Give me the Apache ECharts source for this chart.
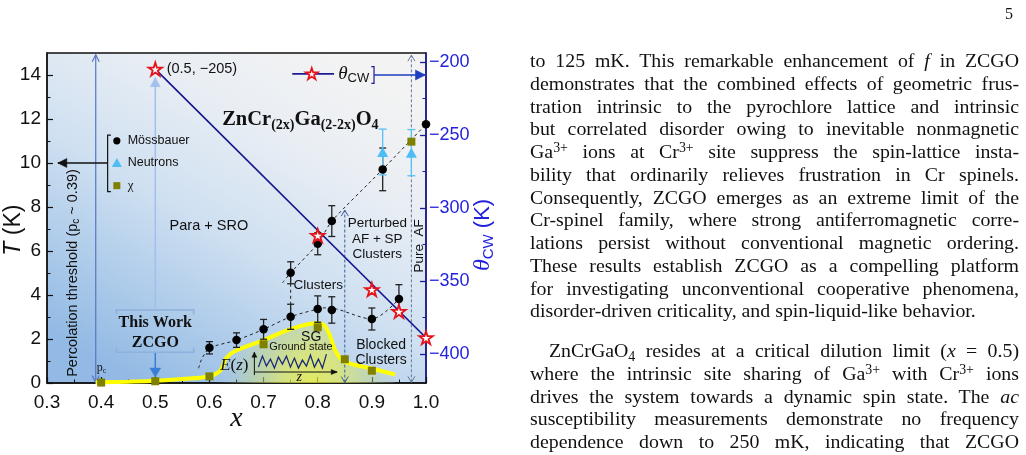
<!DOCTYPE html>
<html>
<head>
<meta charset="utf-8">
<script src="https://cdn.jsdelivr.net/npm/echarts@6.0.0/dist/echarts.min.js"></script>
<style>
html,body{margin:0;padding:0;background:#fff;}
body{width:1026px;height:455px;overflow:hidden;position:relative;}
#chart{position:absolute;left:0;top:0;width:520px;height:455px;}
#text{position:absolute;left:0;top:0;width:1026px;height:455px;font-family:'Liberation Serif','Times New Roman',serif;color:#111;}
.ln{position:absolute;white-space:nowrap;height:22px;line-height:22px;}
.ln sup{font-size:0.7em;vertical-align:0.45em;line-height:0;}
.ln sub{font-size:0.7em;vertical-align:-0.3em;line-height:0;}
#pg{position:absolute;left:1005px;top:5px;font-family:'Liberation Serif',serif;font-size:16px;color:#111;}
</style>
</head>
<body>
<div id="chart"></div>
<div id="text"></div>
<div id="pg">5</div>
<script>
// ---------------- data ----------------
const xTickVals = [0.3, 0.4, 0.5, 0.6, 0.7, 0.8, 0.9, 1.0];
const tTickVals = [0, 2, 4, 6, 8, 10, 12, 14];
const tMinorVals = [1, 3, 5, 7, 9, 11, 13];
const thetaTickVals = [-400, -350, -300, -250, -200];
const thetaMinorVals = [-375, -325, -275, -225];

// Mössbauer (black circles)
const mossX   = [0.6, 0.65, 0.7, 0.75, 0.75, 0.8, 0.8, 0.826, 0.826, 0.9, 0.92, 0.95, 1.0];
const mossT   = [1.6, 1.95, 2.44, 3.01, 5.01, 3.36, 6.33, 3.32, 7.36, 2.91, 9.71, 3.82, 11.76];
const mossErr = [0.28, 0.33, 0.45, 0.57, 0.5, 0.6, 0.5, 0.6, 0.7, 0.5, 0.97, 0.65, 0];

// Neutrons (light blue triangles)
const neutX   = [0.92, 0.973];
const neutT   = [10.5, 10.47];
const neutErr = [1.04, 1.05];

// chi (olive squares)
const chiX = [0.4, 0.5, 0.6, 0.7, 0.8, 0.85, 0.9, 0.973];
const chiT = [0.02, 0.08, 0.3, 1.76, 2.53, 1.08, 0.56, 10.97];

// Curie-Weiss temperature (red stars, right axis)
const thetaX  = [0.5, 0.8, 0.9, 0.95, 1.0];
const thetaCW = [-205, -319, -356, -371, -389];
const thetaFitX = [0.5, 1.0];
const thetaFitY = [-205, -389];

// spin-glass boundary (yellow curve)
const sgX = [0.39, 0.45, 0.5, 0.55, 0.6, 0.612, 0.622, 0.63, 0.645, 0.7, 0.75, 0.8, 0.812, 0.822, 0.832, 0.845, 0.865, 0.9, 0.943];
const sgT = [0.03, 0.06, 0.1, 0.18, 0.3, 0.42, 0.62, 1.1, 1.42, 1.95, 2.45, 2.72, 2.62, 2.2, 1.5, 1.05, 0.85, 0.66, 0.38];

// dashed guide lines
const guideUpperX = [0.735, 0.75, 0.8, 0.826, 0.92, 1.0];
const guideUpperT = [4.55, 5.01, 6.33, 7.36, 9.71, 11.76];
const guideLowerX = [0.58, 0.585, 0.592, 0.6, 0.65, 0.7, 0.75, 0.8, 0.815, 0.835, 0.9, 0.95];
const guideLowerT = [0.67, 1.05, 1.35, 1.6, 1.95, 2.44, 3.01, 3.36, 3.42, 3.36, 2.91, 3.82];
const guideVertX = [0.75, 0.75];
const guideVertT = [3.01, 5.01];

// ---------------- helpers ----------------
const zip = (a, b) => a.map((v, i) => [v, b[i]]);
const SANS = "'Liberation Sans', Arial, Helvetica, sans-serif";
const SERIF = "'Liberation Serif', 'Times New Roman', Times, serif";
const BLUE_AX = '#1c1c96';
const BLUE_TXT = '#2222dd';
const mctx = document.createElement('canvas').getContext('2d');
function fontOf(r) { return (r.it ? 'italic ' : '') + (r.w ? r.w + ' ' : '') + r.size + 'px ' + (r.fam === 'serif' ? SERIF : SANS); }
function runsGroup(pt, note) {
  const ws = note.runs.map(r => { mctx.font = fontOf(r); return mctx.measureText(r.t).width; });
  const tot = ws.reduce((a, b) => a + b, 0);
  let x0 = note.align === 'left' ? 0 : note.align === 'right' ? -tot : -tot / 2;
  const ch = [];
  note.runs.forEach((r, i) => {
    ch.push({ type: 'text', x: x0, y: r.dy || 0,
      style: { text: r.t, font: fontOf(r), fill: r.color || note.color || '#111', align: 'left', verticalAlign: 'middle' } });
    x0 += ws[i];
  });
  return { type: 'group', x: pt[0], y: pt[1], rotation: note.rot || 0, children: ch };
}

// annotation arrows (data coordinates)
const arrowDefs = [
  { a: [0.39, 0.02], b: [0.39, 14.92], color: '#5577c2', w: 1.2, heads: ['open', 'open'], hl: 7, hw: 3.5 },
  { a: [0.5, 3.32], b: [0.5, 13.88], color: '#a2bfee', w: 1.5, heads: [null, 'fill'], hl: 9, hw: 5 },
  { a: [0.5, 1.40], b: [0.5, 0.27], color: '#3a7fd5', w: 1.5, heads: [null, 'fill'], hl: 9, hw: 5.5 },
  { a: [0.85, 0.02], b: [0.85, 7.86], color: '#3a5c9c', w: 1, dash: [3, 2], heads: ['open', 'open'], hl: 6, hw: 3.5 },
  { a: [0.973, 0.03], b: [0.973, 14.9], color: '#60789a', w: 1, dash: [3, 2], heads: ['open', 'open'], hl: 6, hw: 3.5 },
  { a: [0.412, 10.0], b: [0.32, 10.0], color: '#111', w: 1.3, heads: [null, 'fill'], hl: 9, hw: 4.5 },
  { a: [0.904, 14.0], b: [0.999, 14.0], color: '#1f3fbf', w: 1.3, heads: [null, 'fill'], hl: 10, hw: 5 },
  { a: [0.683, 0.36], b: [0.683, 1.4], color: '#111', w: 1, heads: [null, 'fill'], hl: 5, hw: 2.5 },
  { a: [0.683, 0.5], b: [0.836, 0.5], color: '#111', w: 1, heads: [null, 'fill'], hl: 6, hw: 2.5 }
];
const bracketDefs = [
  { pts: [[0.428, 3.12], [0.428, 3.32], [0.571, 3.32], [0.571, 3.12]], color: '#8eb0dc', w: 1.6 },
  { pts: [[0.428, 1.6], [0.428, 1.4], [0.571, 1.4], [0.571, 1.6]], color: '#8eb0dc', w: 1.6 },
  { pts: [[0.418, 11.27], [0.412, 11.27], [0.412, 8.7], [0.418, 8.7]], color: '#111', w: 1.2 },
  { pts: [[0.899, 14.38], [0.904, 14.38], [0.904, 13.62], [0.899, 13.62]], color: BLUE_AX, w: 1.2 },
  { pts: [[0.753, 14.05], [0.83, 14.05]], color: BLUE_AX, w: 1.6 }
];
const STAR = 'M0,-1L0.2245,-0.309L0.951,-0.309L0.363,0.118L0.588,0.809L0,0.382L-0.588,0.809L-0.363,0.118L-0.951,-0.309L-0.2245,-0.309Z';

const notes = [
  { at: [0.521, 14.27], align: 'left', runs: [{ t: '(0.5, \u2212205)', size: 14.5 }] },
  { at: [0.768, 11.98], align: 'center', runs: [
    { t: 'ZnCr', size: 20.5, fam: 'serif', w: 'bold' }, { t: '(2x)', size: 14, fam: 'serif', w: 'bold', dy: 6 },
    { t: 'Ga', size: 20.5, fam: 'serif', w: 'bold' }, { t: '(2-2x)', size: 14, fam: 'serif', w: 'bold', dy: 6 },
    { t: 'O', size: 20.5, fam: 'serif', w: 'bold' }, { t: '4', size: 14, fam: 'serif', w: 'bold', dy: 6 }] },
  { at: [0.449, 11.01], align: 'left', runs: [{ t: 'Mössbauer', size: 12.5 }] },
  { at: [0.449, 10.0], align: 'left', runs: [{ t: 'Neutrons', size: 12.5 }] },
  { at: [0.449, 8.97], align: 'left', runs: [{ t: 'χ', size: 13, fam: 'serif' }] },
  { at: [0.599, 7.14], align: 'center', runs: [{ t: 'Para + SRO', size: 14.5 }] },
  { at: [0.91, 7.27], align: 'center', runs: [{ t: 'Perturbed', size: 13.5 }] },
  { at: [0.91, 6.55], align: 'center', runs: [{ t: 'AF + SP', size: 13.5 }] },
  { at: [0.91, 5.84], align: 'center', runs: [{ t: 'Clusters', size: 13.5 }] },
  { at: [0.988, 6.23], align: 'center', rot: Math.PI / 2, runs: [{ t: 'Pure  AF', size: 13.5 }] },
  { at: [0.801, 4.42], align: 'center', runs: [{ t: 'Clusters', size: 13.5 }] },
  { at: [0.788, 2.1], align: 'center', runs: [{ t: 'SG', size: 14 }] },
  { at: [0.769, 1.62], align: 'center', runs: [{ t: 'Ground state', size: 11 }] },
  { at: [0.917, 1.73], align: 'center', runs: [{ t: 'Blocked', size: 14 }] },
  { at: [0.917, 1.05], align: 'center', runs: [{ t: 'Clusters', size: 14 }] },
  { at: [0.646, 0.79], align: 'center', runs: [{ t: 'E', size: 17, fam: 'serif', it: true }, { t: '(', size: 17, fam: 'serif' }, { t: 'z', size: 17, fam: 'serif', it: true }, { t: ')', size: 17, fam: 'serif' }] },
  { at: [0.766, 0.24], align: 'center', runs: [{ t: 'z', size: 14, fam: 'serif', it: true }] },
  { at: [0.5, 2.73], align: 'center', runs: [{ t: 'This Work', size: 16, fam: 'serif', w: 'bold' }] },
  { at: [0.5, 1.82], align: 'center', runs: [{ t: 'ZCGO', size: 16, fam: 'serif', w: 'bold' }] },
  { at: [0.392, 0.67], align: 'left', runs: [{ t: 'p', size: 12, fam: 'serif' }, { t: 'c', size: 8, fam: 'serif', dy: 3 }] },
  { at: [0.3485, 5.0], align: 'center', rot: Math.PI / 2, runs: [{ t: 'Percolation threshold (p', size: 14.5 }, { t: 'c', size: 10, dy: 3 }, { t: ' ~ 0.39)', size: 14.5 }] },
  { at: [0.838, 14.05], align: 'left', runs: [{ t: 'θ', size: 19, fam: 'serif', it: true }, { t: 'CW', size: 13, dy: 5 }] },
  // axis titles
  { at: [0.2392, 6.95], align: 'center', rot: Math.PI / 2, runs: [{ t: 'T', size: 23, it: true }, { t: ' (K)', size: 23 }] },
  { at: [0.65, -1.64], align: 'center', runs: [{ t: 'x', size: 28, fam: 'serif', it: true }] },
  { at: [1.105, 6.73], align: 'center', rot: Math.PI / 2, color: BLUE_TXT, runs: [{ t: 'θ', size: 24, fam: 'serif', it: true }, { t: 'CW', size: 15, dy: 6 }, { t: ' (K)', size: 22 }] }
];

function arrowEls(api, d) {
  const p1 = api.coord(d.a), p2 = api.coord(d.b);
  const els = [];
  const base = { stroke: d.color, lineWidth: d.w, fill: 'none' };
  if (d.dash) base.lineDash = d.dash;
  els.push({ type: 'line', shape: { x1: p1[0], y1: p1[1], x2: p2[0], y2: p2[1] }, style: Object.assign({}, base) });
  const mk = (tip, from, kind) => {
    if (!kind) return;
    const dx = tip[0] - from[0], dy = tip[1] - from[1], L = Math.hypot(dx, dy);
    const ux = dx / L, uy = dy / L, nx = -uy, ny = ux;
    const bx = tip[0] - ux * d.hl, by = tip[1] - uy * d.hl;
    const pts = [[bx + nx * d.hw, by + ny * d.hw], [tip[0], tip[1]], [bx - nx * d.hw, by - ny * d.hw]];
    if (kind === 'fill') els.push({ type: 'polygon', shape: { points: pts }, style: { fill: d.color, stroke: d.color, lineWidth: 0.5 } });
    else els.push({ type: 'polyline', shape: { points: pts }, style: { stroke: d.color, lineWidth: d.w, fill: 'none' } });
  };
  mk(p1, p2, d.heads[0]);
  mk(p2, p1, d.heads[1]);
  return els;
}

function errRender(xs, ys, es, color, cap) {
  return function (params, api) {
    const i = params.dataIndex;
    if (!es[i]) return { type: 'group', children: [] };
    const top = api.coord([xs[i], ys[i] + es[i]]), bot = api.coord([xs[i], ys[i] - es[i]]);
    const st = { stroke: color, lineWidth: 1.3 };
    return { type: 'group', children: [
      { type: 'line', shape: { x1: top[0], y1: top[1], x2: bot[0], y2: bot[1] }, style: st },
      { type: 'line', shape: { x1: top[0] - cap, y1: top[1], x2: top[0] + cap, y2: top[1] }, style: st },
      { type: 'line', shape: { x1: bot[0] - cap, y1: bot[1], x2: bot[0] + cap, y2: bot[1] }, style: st }
    ] };
  };
}

// ---------------- chart ----------------
const chart = echarts.init(document.getElementById('chart'), null, { renderer: 'canvas' });
const labelFont = { fontFamily: SANS, fontSize: 19, color: '#111' };
const option = {
  animation: false,
  grid: { left: 47, top: 53, width: 379, height: 330, show: true, borderColor: '#111', borderWidth: 1.3,
    backgroundColor: { type: 'linear', x: 0.75, y: 0, x2: 0.25, y2: 1, colorStops: [
      { offset: 0, color: '#f3f3f3' }, { offset: 0.25, color: '#e9eef4' }, { offset: 0.55, color: '#cfe0f1' }, { offset: 1, color: '#92bae4' }] } },
  xAxis: [{
    type: 'value', min: 0.3, max: 1.0, interval: 0.1,
    axisLine: { lineStyle: { color: '#111', width: 1.5 } },
    axisTick: { inside: true, length: 6, lineStyle: { color: '#111', width: 1.2 } },
    minorTick: { show: true, splitNumber: 2, length: 3.5, lineStyle: { color: '#111', width: 1 } },
    axisLabel: Object.assign({ margin: 10, formatter: v => v.toFixed(1) }, labelFont),
    splitLine: { show: false }, minorSplitLine: { show: false }
  }],
  yAxis: [
    { type: 'value', position: 'left', min: 0, max: 15,
      axisLine: { show: true, lineStyle: { color: '#111', width: 1.5 } },
      axisTick: { inside: true, length: 6, customValues: tTickVals, lineStyle: { color: '#111', width: 1.2 } },
      axisLabel: Object.assign({ margin: 6, customValues: tTickVals }, labelFont),
      splitLine: { show: false } },
    { type: 'value', position: 'right', min: -420, max: -194,
      axisLine: { show: true, lineStyle: { color: BLUE_AX, width: 1.6 } },
      axisTick: { inside: true, length: 6, customValues: thetaTickVals, lineStyle: { color: BLUE_AX, width: 1.3 } },
      axisLabel: { margin: 3, customValues: thetaTickVals, fontFamily: SANS, fontSize: 18, color: BLUE_TXT, formatter: v => String(v).replace('-', '\u2212') },
      splitLine: { show: false } },
    { type: 'value', position: 'left', min: 0, max: 15,
      axisLine: { show: false }, axisLabel: { show: false }, splitLine: { show: false },
      axisTick: { inside: true, length: 3.5, customValues: tMinorVals, lineStyle: { color: '#111', width: 1 } } },
    { type: 'value', position: 'right', min: -420, max: -194,
      axisLine: { show: false }, axisLabel: { show: false }, splitLine: { show: false },
      axisTick: { inside: true, length: 3.5, customValues: thetaMinorVals, lineStyle: { color: BLUE_AX, width: 1 } } }
  ],
  series: [
    { type: 'line', name: 'glow', data: zip(sgX, sgT), smooth: 0.4, showSymbol: false, silent: true, z: 1,
      lineStyle: { width: 0 },
      areaStyle: { color: { type: 'radial', x: 0.72, y: 0.97, r: 1.6, colorStops: [
        { offset: 0, color: 'rgba(246,246,40,1)' }, { offset: 0.3, color: 'rgba(228,236,80,0.95)' },
        { offset: 0.6, color: 'rgba(198,216,125,0.7)' }, { offset: 1, color: 'rgba(170,200,210,0)' }] } } },
    { type: 'custom', name: 'annotations', coordinateSystem: 'cartesian2d', data: [[0.5, 5]], z: 2, silent: true,
      renderItem: function (params, api) {
        const ch = [];
        arrowDefs.forEach(d => arrowEls(api, d).forEach(e => ch.push(e)));
        bracketDefs.forEach(b => ch.push({ type: 'polyline', shape: { points: b.pts.map(p => api.coord(p)) }, style: { stroke: b.color, lineWidth: b.w, fill: 'none' } }));
        // legend symbols
        const c1 = api.coord([0.429, 11.01]);
        ch.push({ type: 'circle', shape: { cx: c1[0], cy: c1[1], r: 3.6 }, style: { fill: '#000' } });
        const c2 = api.coord([0.429, 10.0]);
        ch.push({ type: 'polygon', shape: { points: [[c2[0], c2[1] - 5], [c2[0] + 5, c2[1] + 4], [c2[0] - 5, c2[1] + 4]] }, style: { fill: '#4fbdf5' } });
        const c3 = api.coord([0.429, 8.97]);
        ch.push({ type: 'rect', shape: { x: c3[0] - 3.5, y: c3[1] - 3.5, width: 7, height: 7 }, style: { fill: '#7f7f00' } });
        const c4 = api.coord([0.789, 14.05]);
        ch.push({ type: 'path', shape: { pathData: STAR, x: c4[0] - 6, y: c4[1] - 6, width: 12, height: 11.5 }, style: { fill: '#fff', stroke: '#e5141c', lineWidth: 1.7 } });
        // wavy energy landscape
        const w0 = api.coord([0.6905, 0.95]);
        const wx = [0, 4, 8, 12, 16, 20, 24, 28, 32, 36, 40, 44, 48, 52, 56, 60, 64, 68];
        const wy = [5, -6, 4, -3, 6, -5, 2, -6, 5, -4, 6, -2, 4, -7, 5, -3, 6, -8];
        ch.push({ type: 'polyline', shape: { points: wx.map((x, i) => [w0[0] + x, w0[1] + wy[i]]) }, style: { stroke: '#1b2a78', lineWidth: 1.3, fill: 'none' } });
        return { type: 'group', children: ch };
      } },
    { type: 'line', name: 'sg', data: zip(sgX, sgT), smooth: 0.4, showSymbol: false, silent: true, z: 3,
      lineStyle: { color: '#ffff00', width: 4 } },
    { type: 'line', name: 'fit', yAxisIndex: 1, data: zip(thetaFitX, thetaFitY), showSymbol: false, silent: true, z: 3,
      lineStyle: { color: '#14148c', width: 1.6 } },
    { type: 'line', name: 'guideUpper', data: zip(guideUpperX, guideUpperT), smooth: 0.2, showSymbol: false, silent: true, z: 3,
      lineStyle: { color: '#222', width: 1, type: [3, 3] } },
    { type: 'line', name: 'guideLower', data: zip(guideLowerX, guideLowerT), smooth: 0.3, showSymbol: false, silent: true, z: 3,
      lineStyle: { color: '#222', width: 1, type: [3, 3] } },
    { type: 'line', name: 'guideVert', data: zip(guideVertX, guideVertT), showSymbol: false, silent: true, z: 3,
      lineStyle: { color: '#222', width: 1, type: [3, 3] } },
    { type: 'custom', name: 'errMoss', coordinateSystem: 'cartesian2d', data: zip(mossX, mossT), encode: { x: 0, y: 1 }, z: 4, silent: true,
      renderItem: errRender(mossX, mossT, mossErr, '#222', 3.5) },
    { type: 'custom', name: 'errNeut', coordinateSystem: 'cartesian2d', data: zip(neutX, neutT), encode: { x: 0, y: 1 }, z: 4, silent: true,
      renderItem: errRender(neutX, neutT, neutErr, '#58c0f5', 4) },
    { type: 'scatter', name: 'Mössbauer', data: zip(mossX, mossT), symbol: 'circle', symbolSize: 8.5, z: 5, silent: true,
      itemStyle: { color: '#000', opacity: 1 } },
    { type: 'scatter', name: 'Neutrons', data: zip(neutX, neutT), symbol: 'triangle', symbolSize: [11, 10], z: 5, silent: true,
      itemStyle: { color: '#4fbdf5', opacity: 1 } },
    { type: 'scatter', name: 'chi', data: zip(chiX, chiT), symbol: 'rect', symbolSize: 8, z: 5, silent: true,
      itemStyle: { color: '#7f7f00', opacity: 1 } },
    { type: 'scatter', name: 'thetaCW', yAxisIndex: 1, data: zip(thetaX, thetaCW), symbol: 'path://' + STAR, symbolSize: [13.5, 13], z: 6, silent: true,
      itemStyle: { color: '#fff', borderColor: '#e5141c', borderWidth: 1.8, opacity: 1 } },
    { type: 'custom', name: 'notes', coordinateSystem: 'cartesian2d', data: [[0.5, 5]], z: 7, silent: true, clip: false,
      renderItem: function (params, api) {
        return { type: 'group', children: notes.map(n => runsGroup(api.coord(n.at), n)) };
      } }
  ]
};
chart.setOption(option);

// ---------------- page text ----------------
const bodyLines = [
  'to 125 mK. This remarkable enhancement of <i>f</i> in ZCGO',
  'demonstrates that the combined effects of geometric frus-',
  'tration intrinsic to the pyrochlore lattice and intrinsic',
  'but correlated disorder owing to inevitable nonmagnetic',
  'Ga<sup>3+</sup> ions at Cr<sup>3+</sup> site suppress the spin-lattice insta-',
  'bility that ordinarily relieves frustration in Cr spinels.',
  'Consequently, ZCGO emerges as an extreme limit of the',
  'Cr-spinel family, where strong antiferromagnetic corre-',
  'lations persist without conventional magnetic ordering.',
  'These results establish ZCGO as a compelling platform',
  'for investigating unconventional cooperative phenomena,',
  'disorder-driven criticality, and spin-liquid-like behavior.',
  'ZnCrGaO<sub>4</sub> resides at a critical dilution limit (<i>x</i> = 0.5)',
  'where the intrinsic site sharing of Ga<sup>3+</sup> with Cr<sup>3+</sup> ions',
  'drives the system towards a dynamic spin state. The <i>ac</i>',
  'susceptibility measurements demonstrate no frequency',
  'dependence down to 250 mK, indicating that ZCGO'
];
const lastOfPara = [11];
const firstOfPara = [12];
(function layoutText() {
  const box = document.getElementById('text');
  const L = 530, R = 1019, indent = 19;
  const probe = document.createElement('span');
  probe.className = 'ln'; probe.style.fontSize = '20px'; probe.innerHTML = bodyLines[11];
  box.appendChild(probe);
  const fs = 20 * 446 / probe.getBoundingClientRect().width;
  box.removeChild(probe);
  bodyLines.forEach((html, i) => {
    const d = document.createElement('span');
    d.className = 'ln';
    d.style.fontSize = fs.toFixed(2) + 'px';
    d.innerHTML = html;
    const cy = i < 12 ? 62 + 22.75 * i : 352 + 22.75 * (i - 12);
    const left = L + (firstOfPara.includes(i) ? indent : 0);
    d.style.left = left + 'px';
    d.style.top = (cy - 11 - 2) + 'px';
    box.appendChild(d);
    if (!lastOfPara.includes(i)) {
      const w = d.getBoundingClientRect().width;
      const spaces = (d.textContent.match(/ /g) || []).length;
      if (spaces) d.style.wordSpacing = ((R - left - w) / spaces).toFixed(3) + 'px';
    }
  });
})();
</script>
</body>
</html>
